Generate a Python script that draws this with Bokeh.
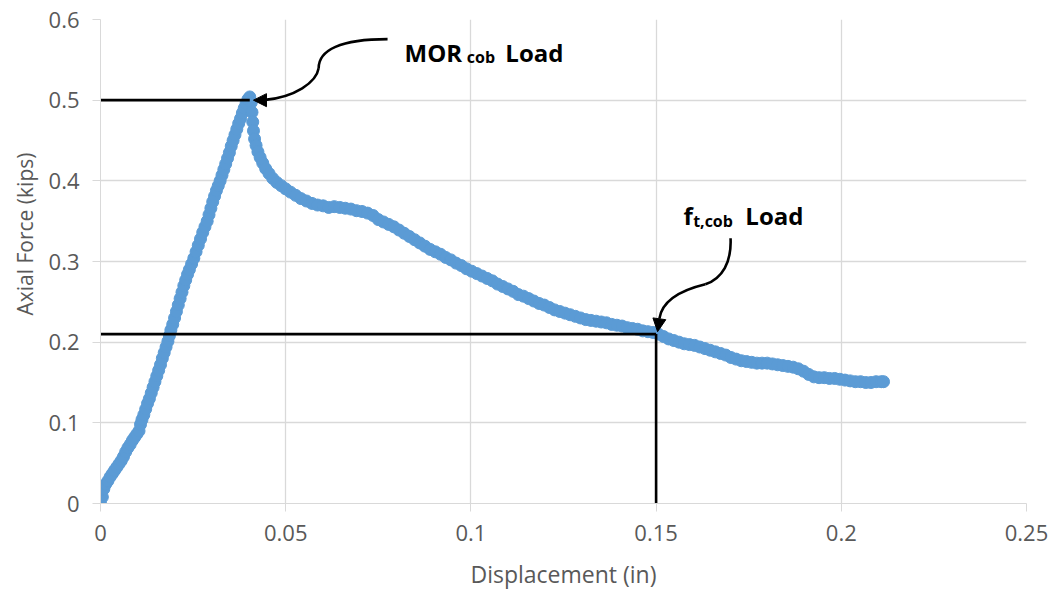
from bokeh.embed import file_html
from bokeh.models import Arrow, FixedTicker, Label, NormalHead, NumeralTickFormatter, Range1d, Title
from bokeh.plotting import figure
from bokeh.resources import INLINE

# Load-displacement record of the cob specimen: displacement (in), axial force (kips)
disp = [
    0.0000, 0.0005, 0.0009, 0.0014, 0.0020, 0.0026, 0.0032, 0.0038, 0.0044, 0.0050,
    0.0056, 0.0062, 0.0068, 0.0074, 0.0080, 0.0086, 0.0092, 0.0098, 0.0104, 0.0108,
    0.0112, 0.0117, 0.0122, 0.0127, 0.0132, 0.0137, 0.0142, 0.0147, 0.0152, 0.0157,
    0.0162, 0.0167, 0.0172, 0.0177, 0.0182, 0.0186, 0.0190, 0.0195, 0.0200, 0.0205,
    0.0210, 0.0215, 0.0220, 0.0225, 0.0230, 0.0235, 0.0240, 0.0246, 0.0252, 0.0258,
    0.0264, 0.0270, 0.0276, 0.0282, 0.0288, 0.0293, 0.0298, 0.0303, 0.0308, 0.0313,
    0.0318, 0.0323, 0.0328, 0.0333, 0.0338, 0.0343, 0.0348, 0.0353, 0.0358, 0.0363,
    0.0368, 0.0373, 0.0378, 0.0383, 0.0388, 0.0393, 0.0398, 0.0403,
    0.0407, 0.0409, 0.0411, 0.0413, 0.0416, 0.0420, 0.0425, 0.0431, 0.0438, 0.0446,
    0.0455, 0.0465, 0.0476, 0.0488, 0.0500, 0.0513, 0.0527, 0.0541, 0.0556, 0.0571,
    0.0586, 0.0601, 0.0616, 0.0631, 0.0646, 0.0661, 0.0676, 0.0691, 0.0706, 0.0721,
    0.0736, 0.0750, 0.0764, 0.0778, 0.0792, 0.0806, 0.0820, 0.0834, 0.0848, 0.0862,
    0.0876, 0.0890, 0.0904, 0.0918, 0.0932, 0.0946, 0.0960, 0.0974, 0.0988, 0.1002,
    0.1016, 0.1030, 0.1044, 0.1058, 0.1072, 0.1086, 0.1100, 0.1114, 0.1128, 0.1142,
    0.1156, 0.1170, 0.1184, 0.1198, 0.1212, 0.1226, 0.1240, 0.1254, 0.1268, 0.1282,
    0.1296, 0.1310, 0.1324, 0.1338, 0.1352, 0.1366, 0.1380, 0.1394, 0.1408, 0.1422,
    0.1436, 0.1450, 0.1464, 0.1478, 0.1492, 0.1506, 0.1520, 0.1534, 0.1548, 0.1562,
    0.1576, 0.1590, 0.1604, 0.1618, 0.1632, 0.1646, 0.1660, 0.1674, 0.1688, 0.1702,
    0.1716, 0.1730, 0.1744, 0.1758, 0.1772, 0.1786, 0.1800, 0.1814, 0.1828, 0.1842,
    0.1856, 0.1870, 0.1884, 0.1898, 0.1912, 0.1926, 0.1940, 0.1954, 0.1968, 0.1982,
    0.1996, 0.2010, 0.2024, 0.2038, 0.2052, 0.2066, 0.2080, 0.2094, 0.2108, 0.2114,
]
force = [
    0.000, 0.008, 0.018, 0.024, 0.028, 0.033, 0.037, 0.041, 0.045, 0.049,
    0.053, 0.058, 0.064, 0.069, 0.073, 0.078, 0.082, 0.086, 0.090, 0.098,
    0.104, 0.110, 0.117, 0.124, 0.130, 0.137, 0.144, 0.151, 0.158, 0.165,
    0.172, 0.180, 0.187, 0.194, 0.201, 0.208, 0.215, 0.222, 0.230, 0.238,
    0.246, 0.254, 0.262, 0.270, 0.277, 0.284, 0.290, 0.297, 0.304, 0.312,
    0.320, 0.328, 0.336, 0.343, 0.350, 0.358, 0.366, 0.374, 0.381, 0.388,
    0.394, 0.400, 0.407, 0.414, 0.421, 0.428, 0.435, 0.443, 0.450, 0.457,
    0.464, 0.471, 0.477, 0.484, 0.490, 0.496, 0.501, 0.504,
    0.497, 0.485, 0.473, 0.462, 0.452, 0.444, 0.436, 0.429, 0.422, 0.415,
    0.409, 0.403, 0.398, 0.394, 0.390, 0.386, 0.382, 0.378, 0.375, 0.372,
    0.370, 0.369, 0.367, 0.368, 0.367, 0.366, 0.365, 0.363, 0.362, 0.360,
    0.357, 0.352, 0.349, 0.346, 0.343, 0.339, 0.335, 0.331, 0.327, 0.323,
    0.319, 0.315, 0.312, 0.309, 0.305, 0.302, 0.298, 0.295, 0.291, 0.288,
    0.285, 0.282, 0.279, 0.276, 0.272, 0.269, 0.266, 0.263, 0.259, 0.257,
    0.254, 0.251, 0.248, 0.246, 0.243, 0.240, 0.238, 0.236, 0.234, 0.232,
    0.230, 0.228, 0.227, 0.226, 0.225, 0.224, 0.222, 0.221, 0.220, 0.218,
    0.217, 0.216, 0.214, 0.213, 0.212, 0.210, 0.207, 0.204, 0.202, 0.200,
    0.198, 0.197, 0.196, 0.194, 0.192, 0.190, 0.188, 0.186, 0.184, 0.181,
    0.179, 0.177, 0.176, 0.175, 0.174, 0.174, 0.174, 0.173, 0.172, 0.171,
    0.170, 0.169, 0.167, 0.164, 0.160, 0.157, 0.156, 0.156, 0.155, 0.155,
    0.154, 0.153, 0.152, 0.151, 0.151, 0.150, 0.150, 0.151, 0.151, 0.151,
]

x_ticks = [0, 0.05, 0.1, 0.15, 0.2, 0.25]
x_tick_labels = ["0", "0.05", "0.1", "0.15", "0.2", "0.25"]
y_ticks = [0, 0.1, 0.2, 0.3, 0.4, 0.5, 0.6]
y_tick_labels = ["0", "0.1", "0.2", "0.3", "0.4", "0.5", "0.6"]

# Characteristic loads marked on the curve
mor_disp, mor_load = 0.0403, 0.50
ft_disp, ft_load = 0.15, 0.21

GRID = "#d9d9d9"
TEXT = "#595959"
BLUE = "#5b9bd5"
FONT = "Open Sans"

p = figure(
    width=1057, height=594,
    x_range=Range1d(0, 0.25), y_range=Range1d(0, 0.6),
    output_backend="svg", toolbar_location=None,
    min_border_left=100, min_border_right=31, min_border_top=19, min_border_bottom=91,
)
p.outline_line_color = None
p.background_fill_color = "white"

for axis, ticks, labels in ((p.xaxis, x_ticks, x_tick_labels), (p.yaxis, y_ticks, y_tick_labels)):
    axis.ticker = FixedTicker(ticks=ticks)
    axis.formatter = NumeralTickFormatter(format="0.[00]")
    axis.major_label_overrides = dict(zip(ticks, labels))
    axis.axis_line_color = GRID
    axis.major_tick_line_color = GRID
    axis.major_tick_out = 8
    axis.major_tick_in = 0
    axis.minor_tick_line_color = None
    axis.major_label_text_font = FONT
    axis.major_label_text_font_size = "22px"
    axis.major_label_text_color = TEXT
    axis.major_label_standoff = 13

p.xgrid.ticker = FixedTicker(ticks=x_ticks)
p.ygrid.ticker = FixedTicker(ticks=y_ticks)
for g in (p.xgrid, p.ygrid):
    g.grid_line_color = GRID
    g.grid_line_width = 1.3

p.xaxis.axis_label = "Displacement (in)"
p.xaxis.axis_label_text_font = FONT
p.xaxis.axis_label_text_font_size = "23px"
p.xaxis.axis_label_text_font_style = "normal"
p.xaxis.axis_label_text_color = TEXT
p.xaxis.axis_label_standoff = 14

# y title as a side title, starting 188 px above the bottom of the frame
p.add_layout(Title(
    text="Axial Force (kips)", align="left", offset=188, standoff=14,
    text_font=FONT, text_font_size="21px", text_font_style="normal", text_color=TEXT,
), "left")

# measured curve
p.scatter(disp, force, size=12, fill_color=BLUE, line_color=BLUE)

# reference lines to the two characteristic loads
p.line([0, mor_disp], [mor_load, mor_load], line_color="black", line_width=2.6)
p.line([0, ft_disp], [ft_load, ft_load], line_color="black", line_width=2.6)
p.line([ft_disp, ft_disp], [0, ft_load], line_color="black", line_width=2.6)

# curved callout towards the MOR load
p.bezier(x0=[0.0775, 0.0589], y0=[0.5757, 0.5397],
         x1=[0.0589, 0.0440], y1=[0.5397, 0.5000],
         cx0=[0.0648, 0.0583], cy0=[0.5757, 0.5223],
         cx1=[0.0589, 0.0526], cy1=[0.5620, 0.5037],
         line_color="black", line_width=2.6)
p.add_layout(Arrow(end=NormalHead(size=13, fill_color="black", line_color="black"),
                   x_start=0.0440, y_start=0.5000, x_end=mor_disp + 0.0010, y_end=mor_load,
                   line_color="black", line_width=2.6))

# curved callout towards the tensile load
p.bezier(x0=[0.1701, 0.1633], y0=[0.3288, 0.2717],
         x1=[0.1633, 0.1509], y1=[0.2717, 0.2295],
         cx0=[0.1704, 0.1566], cy0=[0.2990, 0.2643],
         cx1=[0.1679, 0.1517], cy1=[0.2792, 0.2519],
         line_color="black", line_width=2.6)
p.add_layout(Arrow(end=NormalHead(size=13, fill_color="black", line_color="black"),
                   x_start=0.1509, y_start=0.2295, x_end=ft_disp + 0.0004, y_end=ft_load + 0.003,
                   line_color="black", line_width=2.6))


def callout(x, y, text, size):
    p.add_layout(Label(x=x, y=y, text=text, text_font=FONT, text_font_size=size,
                       text_font_style="bold", text_color="black",
                       text_align="left", text_baseline="alphabetic"))


callout(0.0821, 0.5596, "MOR", "24px")
callout(0.0989, 0.5534, "cob", "16px")
callout(0.1093, 0.5596, "Load", "24px")

callout(0.1574, 0.3573, "f", "24px")
callout(0.1600, 0.3499, "t,cob", "16px")
callout(0.1741, 0.3573, "Load", "24px")

open("out.html", "w").write(file_html(p, INLINE))
